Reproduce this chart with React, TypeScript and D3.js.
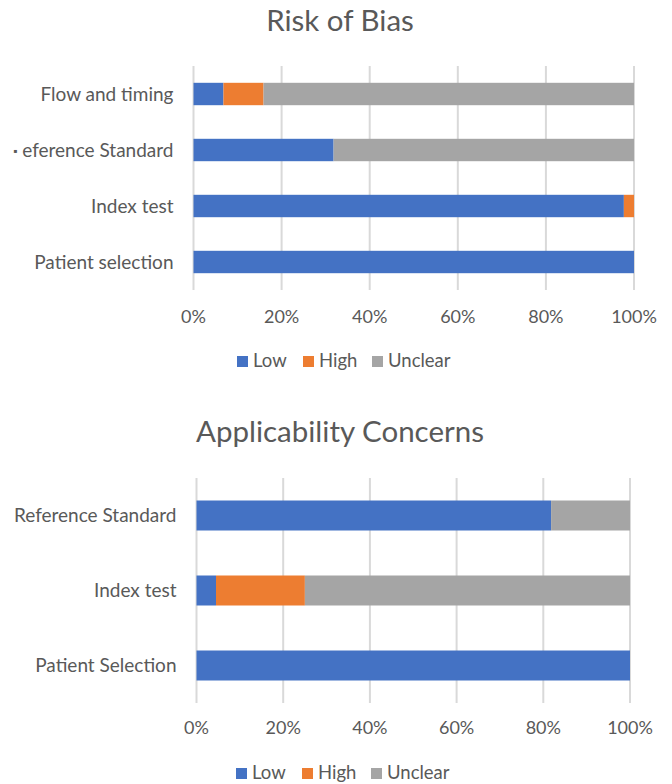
import { useEffect, useRef } from 'react'
import * as d3 from 'd3'

// percentages of studies (n = 44) per domain
const seriesNames = ['Low', 'High', 'Unclear']
const seriesColors = ['#4472C4', '#ED7D31', '#A5A5A5']
const xTicks = [0, 20, 40, 60, 80, 100]

const riskCategories = ['Flow and timing', 'Reference Standard', 'Index test', 'Patient selection']
const riskLow = [6.8, 31.8, 97.7, 100]
const riskHigh = [9.1, 0, 2.3, 0]
const riskUnclear = [84.1, 68.2, 0, 0]

const applCategories = ['Reference Standard', 'Index test', 'Patient Selection']
const applLow = [81.8, 4.5, 100]
const applHigh = [0, 20.5, 0]
const applUnclear = [18.2, 75, 0]

const textColor = '#595959'
const gridColor = '#D9D9D9'
const font = 'Lato, sans-serif'

const drawPanel = (svg, opts) => {
  const { title, titleY, categories, low, high, unclear, x0, x1, y0, y1, tickY, legendY, legendX } = opts
  const rows = categories.map((c, i) => ({ cat: c, Low: low[i], High: high[i], Unclear: unclear[i] }))

  const g = svg.append('g')

  const x = d3.scaleLinear().domain([0, 100]).range([x0, x1])
  const y = d3.scaleBand().domain(categories).range([y0, y1]).paddingInner(0.6).paddingOuter(0.3)

  g.append('text')
    .attr('x', 340).attr('y', titleY)
    .attr('text-anchor', 'middle')
    .style('font-family', font).style('font-size', '29.5px').style('fill', textColor)
    .text(title)

  // gridlines
  g.append('g').selectAll('line').data(xTicks).enter().append('line')
    .attr('x1', d => x(d)).attr('x2', d => x(d))
    .attr('y1', y0).attr('y2', y1)
    .style('stroke', gridColor).style('stroke-width', 2)

  const stacked = d3.stack().keys(seriesNames)(rows)
  g.append('g').selectAll('g').data(stacked).enter().append('g')
    .style('fill', (d, i) => seriesColors[i])
    .selectAll('rect').data(d => d).enter().append('rect')
    .attr('x', d => x(d[0]))
    .attr('width', d => x(d[1]) - x(d[0]))
    .attr('y', d => y(d.data.cat))
    .attr('height', y.bandwidth())

  // category labels
  const labels = g.append('g').selectAll('text').data(categories).enter().append('text')
    .attr('x', x0 - 20)
    .attr('y', d => y(d) + y.bandwidth() / 2)
    .attr('text-anchor', 'end')
    .style('font-family', font).style('font-size', '19px').style('fill', textColor)
  labels.each(function (d) {
    const t = d3.select(this)
    if (opts.clipFirstLetter && d === 'Reference Standard') {
      // the original export lost the "R" here, only a speck is left
      t.append('tspan').style('font-size', '11px').attr('dy', '5.4px').text('\u25AA')
      t.append('tspan').attr('dy', '1.25px').text(' ' + d.slice(1))
    } else {
      t.attr('dy', '0.35em').text(d)
    }
  })

  // x tick labels
  g.append('g').selectAll('text').data(xTicks).enter().append('text')
    .attr('x', d => x(d)).attr('y', tickY)
    .attr('dy', '0.35em')
    .attr('text-anchor', 'middle')
    .style('font-family', font).style('font-size', '18px').style('fill', textColor)
    .text(d => d + '%')

  // legend
  const lg = g.append('g').selectAll('g').data(seriesNames).enter().append('g')
    .attr('transform', (d, i) => `translate(${legendX[i]},${legendY})`)
  lg.append('rect').attr('x', 0).attr('y', -5).attr('width', 11).attr('height', 11)
    .style('fill', (d, i) => seriesColors[i])
  lg.append('text').attr('x', 16).attr('dy', '0.35em')
    .style('font-family', font).style('font-size', '18.5px').style('fill', textColor)
    .text(d => d)
}

const App = () => {
  const ref = useRef(null)

  useEffect(() => {
    document.body.style.margin = '0'
    const svg = d3.select(ref.current)
    svg.selectAll('*').remove()

    drawPanel(svg, {
      title: 'Risk of Bias', titleY: 31,
      categories: riskCategories, low: riskLow, high: riskHigh, unclear: riskUnclear,
      x0: 193.5, x1: 634, y0: 66, y1: 290,
      tickY: 317, legendY: 361, legendX: [237, 303, 372],
      clipFirstLetter: true,
    })

    drawPanel(svg, {
      title: 'Applicability Concerns', titleY: 442,
      categories: applCategories, low: applLow, high: applHigh, unclear: applUnclear,
      x0: 196.5, x1: 630, y0: 478, y1: 703,
      tickY: 728, legendY: 773, legendX: [236, 302, 371],
    })
  }, [])

  return (
    <svg ref={ref} width={672} height={784} style={{ display: 'block', background: '#fff' }} />
  )
}

export default App
